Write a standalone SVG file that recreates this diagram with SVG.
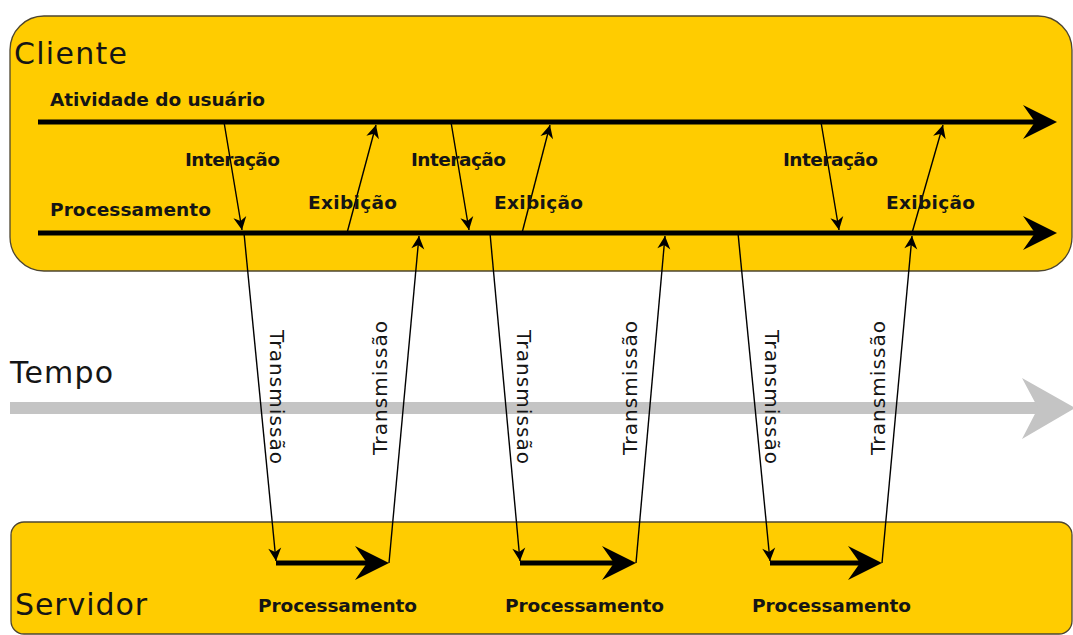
<svg xmlns="http://www.w3.org/2000/svg" width="1073" height="635" viewBox="0 0 1073 635">
  <style>
    text { font-family: "DejaVu Sans", "Liberation Sans", sans-serif; fill: #151515; }
    .title { font-size: 30px; }
    .lbl { font-size: 18.5px; font-weight: bold; }
    .tx { font-size: 20px; }
    .lane { fill: #FFCC00; stroke: #4d4530; stroke-width: 1.3; }
    .thick { fill: none; stroke: #000; stroke-width: 5; marker-end: url(#bigHead); }
    .thin { fill: none; stroke: #000; stroke-width: 1.4; marker-end: url(#smallHead); }
  </style>
  <defs>
    <!-- notched head for the thick timelines -->
    <marker id="bigHead" viewBox="-36 -19 38 38" refX="-16" refY="0" markerWidth="38" markerHeight="38" markerUnits="userSpaceOnUse" orient="auto">
      <path d="M0,0 L-34,-17 L-22,0 L-34,17 Z" fill="#000"/>
    </marker>
    <!-- small barbed head for the message arrows -->
    <marker id="smallHead" viewBox="-15 -8 17 16" refX="0" refY="0" markerWidth="17" markerHeight="16" markerUnits="userSpaceOnUse" orient="auto">
      <path d="M0,0 L-13,-6.5 L-9,0 L-13,6.5 Z" fill="#000"/>
    </marker>
  </defs>

  <rect width="1073" height="635" fill="#fff"/>

  <!-- client lane -->
  <g id="cliente">
    <rect class="lane" x="10" y="16" width="1062" height="255" rx="34" ry="34"/>
    <text class="title" x="14" y="64" textLength="113" lengthAdjust="spacing">Cliente</text>
    <text class="lbl" x="50" y="106" textLength="215" lengthAdjust="spacing">Atividade do usuário</text>
    <text class="lbl" x="50" y="216" textLength="161" lengthAdjust="spacing">Processamento</text>
  </g>

  <!-- server lane -->
  <g id="servidor">
    <rect class="lane" x="11" y="522" width="1061" height="112" rx="13" ry="13"/>
    <text class="title" x="15" y="615" textLength="132" lengthAdjust="spacing">Servidor</text>
    <text class="lbl" x="258" y="612" textLength="159" lengthAdjust="spacing">Processamento</text>
    <text class="lbl" x="505" y="612" textLength="159" lengthAdjust="spacing">Processamento</text>
    <text class="lbl" x="752" y="612" textLength="159" lengthAdjust="spacing">Processamento</text>
  </g>

  <!-- time axis -->
  <g id="tempo">
    <text class="title" x="10" y="383" textLength="103" lengthAdjust="spacing">Tempo</text>
    <line x1="10" y1="408" x2="1040" y2="408" stroke="#c4c4c4" stroke-width="12"/>
    <path d="M1075,408 L1022,378 L1038,408 L1022,439 Z" fill="#c4c4c4"/>
  </g>

  <!-- connectors -->
  <g id="connectors">
    <!-- timelines -->
    <path class="thick" d="M38,122 H1041"/>
    <path class="thick" d="M38,233 H1041"/>
    <path class="thick" d="M276,563 H373"/>
    <path class="thick" d="M520,563 H620"/>
    <path class="thick" d="M770,563 H866"/>

    <!-- interaction: user activity to client processing -->
    <path class="thin" d="M224,122 L242,230"/>
    <path class="thin" d="M451,122 L469,230"/>
    <path class="thin" d="M821,122 L839,230"/>
    <!-- display: client processing to user activity -->
    <path class="thin" d="M347,233 L376,125"/>
    <path class="thin" d="M522,233 L550,125"/>
    <path class="thin" d="M912,233 L943,125"/>
    <!-- requests to the server -->
    <path class="thin" d="M244,233 L276,561"/>
    <path class="thin" d="M490,233 L520,561"/>
    <path class="thin" d="M738,233 L770,561"/>
    <!-- responses back to the client -->
    <path class="thin" d="M389,563 L419,236"/>
    <path class="thin" d="M636,563 L665,236"/>
    <path class="thin" d="M882,563 L912,236"/>

    <!-- connector labels -->
    <text class="lbl" x="185" y="166" textLength="95" lengthAdjust="spacing">Interação</text>
    <text class="lbl" x="411" y="166" textLength="95" lengthAdjust="spacing">Interação</text>
    <text class="lbl" x="783" y="166" textLength="95" lengthAdjust="spacing">Interação</text>
    <text class="lbl" x="308" y="209" textLength="89" lengthAdjust="spacing">Exibição</text>
    <text class="lbl" x="494" y="209" textLength="89" lengthAdjust="spacing">Exibição</text>
    <text class="lbl" x="886" y="209" textLength="89" lengthAdjust="spacing">Exibição</text>

    <text class="tx" transform="translate(270,330) rotate(90)" textLength="134" lengthAdjust="spacing">Transmissão</text>
    <text class="tx" transform="translate(517,330) rotate(90)" textLength="134" lengthAdjust="spacing">Transmissão</text>
    <text class="tx" transform="translate(765,330) rotate(90)" textLength="134" lengthAdjust="spacing">Transmissão</text>
    <text class="tx" transform="translate(387,455) rotate(-90)" textLength="134" lengthAdjust="spacing">Transmissão</text>
    <text class="tx" transform="translate(637,455) rotate(-90)" textLength="134" lengthAdjust="spacing">Transmissão</text>
    <text class="tx" transform="translate(885,455) rotate(-90)" textLength="134" lengthAdjust="spacing">Transmissão</text>
  </g>
</svg>
